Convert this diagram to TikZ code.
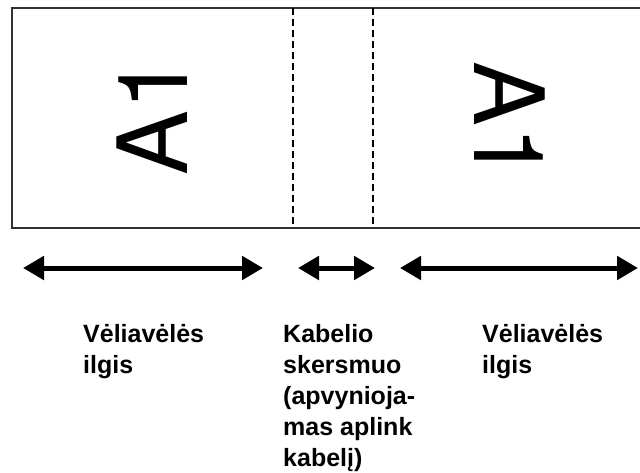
\documentclass[tikz,border=0pt]{standalone}
\usepackage{fontspec}
\setmainfont{Liberation Sans}
\newfontfamily\heros{TeX Gyre Heros}
\usetikzlibrary{arrows.meta}
\begin{document}
\begin{tikzpicture}[x=1pt,y=-1pt,
  frame/.style={draw=black!80, line width=1.5pt},
  cut/.style={draw=black, line width=1.2pt, dash pattern=on 7pt off 4pt},
  dimarrow/.style={line width=5pt, {Triangle[length=21pt,width=23pt]}-{Triangle[length=21pt,width=23pt]}},
  bigtext/.style={font=\heros\fontsize{97}{97}\selectfont, inner sep=0pt},
  caption/.style={font=\bfseries\fontsize{25}{31}\selectfont, align=left, anchor=base west, inner sep=0pt}]
\useasboundingbox (0,0) rectangle (640,472);
% frame
\coordinate (tr) at (641,8);
\coordinate (tl) at (12,8);
\coordinate (bl) at (12,228);
\coordinate (br) at (641,228);
\draw[frame] (tr) -- (tl) -- (bl) -- (br);
% fold lines
\coordinate (d1t) at (293,8);
\coordinate (d1b) at (293,228);
\coordinate (d2t) at (373,8);
\coordinate (d2b) at (373,228);
\draw[cut] (d1t) -- (d1b);
\draw[cut] (d2t) -- (d2b);
% labels
\node[bigtext, rotate=90] (a1l) at (152,116) {A1};
\node[bigtext, rotate=-90] (a1r) at (510,121) {A1};
% dimension arrows
\coordinate (l1) at (23,268);
\coordinate (l2) at (263,268);
\coordinate (m1) at (298,268);
\coordinate (m2) at (375,268);
\coordinate (r1) at (400,268);
\coordinate (r2) at (638,268);
\draw[dimarrow] (l1) -- (l2);
\draw[dimarrow] (m1) -- (m2);
\draw[dimarrow] (r1) -- (r2);
% captions (base anchor = baseline of last line)
\node[caption] (capl) at (83,373) {Vėliavėlės\\ilgis};
\node[caption] (capm) at (283,466) {Kabelio\\skersmuo\\(apvynioja-\\mas aplink\\kabelį)};
\node[caption] (capr) at (482,373) {Vėliavėlės\\ilgis};
\end{tikzpicture}
\end{document}
